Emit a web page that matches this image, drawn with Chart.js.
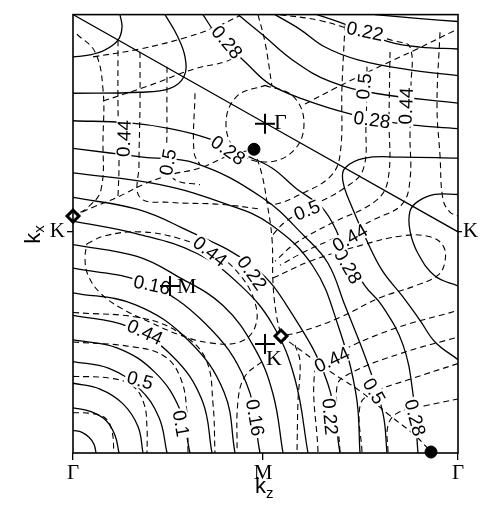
<!DOCTYPE html>
<html>
<head>
<meta charset="utf-8">
<script src="https://cdn.jsdelivr.net/npm/chart.js@4.4.1/dist/chart.umd.min.js"></script>
<style>
  html, body { margin: 0; padding: 0; background: #fff; }
  #wrap { width: 485px; height: 513px; }
</style>
</head>
<body>
<div id="wrap"><canvas id="c" width="485" height="513"></canvas></div>
<script>
// k-plane in arbitrary units, origin at the lower-left Gamma point
const kzTicks = [0, 190, 385];
const kzLabels = ['Γ', 'M', 'Γ'];
const kxTicks = [225];
const kxLabels = ['K'];

// solid contours (first band)
const arcA1 = [[0,23],[9,21],[16,16],[21,9],[23,0]];
const arcA2 = [[0,46],[18,42],[33,33],[42,18],[46,0]];
const arcA3 = [[0,71],[27,65],[50,50],[65,27],[70,0]];
const arcA4 = [[0,93],[36,86],[66,66],[86,36],[94,0]];
const arcA5 = [[0,115],[44,107],[82,82],[107,44],[117,0]];
const arcA6 = [[0,140],[54,129],[99,99],[129,54],[139,0]];
const arcA7 = [[0,163],[62,151],[115,115],[151,62],[162,0]];
const arcA8 = [[0,188],[72,173],[132,132],[173,72],[187,0]];
const arcA9 = [[0,212],[64,200],[104,180],[150,150],[182,106],[200,60],[210,0]];
const arcA10 = [[0,236],[64,223],[124,203],[168,170],[200,130],[222,75],[235,0]];
const arcA11 = [[0,260],[64,248],[107,230],[180,190],[220,140],[255,70],[267,0]];
const arcA12 = [[0,285],[87,273],[154,253],[197,233],[240,190],[265,130],[283,60],[287,0]];
const arcA13 = [[0,310],[70,301],[122,295],[189,260],[232,220],[255,193],[272,150],[295,90],[310,40],[314,0]];
const arcA14 = [[0,338],[54,336],[97,330],[135,320],[172,303],[199,290],[222,270],[252,246],[275,200],[292,170],[309,150],[330,110],[340,60],[345,0]];
const cornerS1 = [[47,446],[49,433],[45,420],[32,410],[17,405],[0,403]];
const cornerS2 = [[92,446],[104,425],[112,403],[111,383],[97,371],[67,367],[0,366]];
const zoneEdge = [[0,446],[385,225]];
const topT1 = [[302,446],[347,442],[385,439]];
const topT2 = [[244,446],[267,438],[287,430],[317,418],[347,413],[385,411]];
const topT3 = [[202,446],[227,431],[252,413],[285,400],[335,390],[385,384]];
const topT4 = [[165,446],[189,426],[222,398],[257,378],[302,366],[385,356]];
const topT5 = [[130,446],[142,428],[174,396],[197,375],[230,360],[277,345],[327,335],[385,330]];
const pocketOuter = [[385,300],[327,301],[292,300],[272,290],[270,276],[279,250],[292,220],[309,186],[329,160],[347,135],[362,113],[385,95]];
const pocketInner = [[385,263],[362,263],[345,256],[337,246],[337,226],[345,203],[362,180],[385,170]];

// dashed contours (second band)
const sqA = [[0,41],[20,40],[33,35],[39,22],[41,0]];
const sqB = [[0,78],[38,76],[60,68],[71,50],[74,25],[74,0]];
const sqC = [[0,113],[60,108],[92,98],[108,75],[114,40],[115,0]];
const sqD = [[0,143],[70,137],[110,120],[133,95],[140,50],[142,0]];
const ellipseM = [[14,213],[32,221],[67,225],[107,218],[142,203],[167,181],[182,153],[182,128],[167,113],[137,112],[107,120],[77,133],[47,148],[27,163],[15,181],[12,198],[14,213]];
const circleG = [[192,374],[220,363],[231,335],[220,307],[192,296],[164,307],[153,335],[164,363],[192,374]];
const rayG = [[185,446],[192,418],[199,373]];
const pathKdot = [[208,119],[227,105],[257,83],[287,63],[317,38],[342,18],[358,1]];
const pathDotK = [[181,309],[189,283],[194,255],[199,218],[200,173],[203,143],[208,119]];
const pathKleft = [[0,241],[20,250],[44,260],[70,273],[97,283],[127,290],[157,303],[181,309]];
const loopE = [[200,178],[237,195],[287,211],[330,221],[357,220],[370,211],[372,195],[365,181],[342,170],[307,158],[267,138],[227,123],[208,119]];
const bandL1 = [[315,1],[315,28],[325,41],[352,48],[385,55]];
const bandL2 = [[289,1],[287,48],[299,61],[337,75],[385,91]];
const bandL3 = [[267,1],[264,68],[277,81],[327,101],[385,118]];
const bandL4 = [[245,1],[242,85],[257,98],[317,125],[385,145]];
const dropB1 = [[189,93],[172,78],[165,53],[164,1]];
const dropB2 = [[222,110],[227,93],[225,53],[224,1]];
const bendV2 = [[272,435],[269,373],[267,303],[257,281],[227,263],[202,253],[194,255]];
const bendV3 = [[294,393],[293,333],[290,288],[272,270],[237,250],[212,235],[199,221]];
const bendV4 = [[317,408],[316,343],[315,278],[302,256],[257,233],[222,213],[202,195]];
const bendV5 = [[207,446],[247,440],[287,428],[322,419],[337,413],[338,373],[337,323],[337,278],[329,253],[302,238],[267,221],[232,205],[207,191]];
const bendV6 = [[367,428],[364,353],[367,303],[370,258],[377,245],[385,241]];
const riseR0 = [[232,355],[262,371],[302,391],[342,410],[382,430]];
const colU1 = [[4,426],[22,408],[30,370],[30,320],[28,268],[15,250],[0,241]];
const colU2 = [[45,420],[45,353],[46,293],[45,261]];
const colU3 = [[67,408],[67,353],[66,293],[67,260],[97,255],[147,253],[189,248]];
const colU4 = [[94,393],[94,333],[95,293],[102,278],[127,273]];
const colU5 = [[122,366],[121,306],[127,293]];
const riseR1 = [[20,403],[67,411],[114,423],[142,433],[167,445]];
const riseR2 = [[30,358],[74,373],[122,391],[152,398],[172,408]];

// special points
const crossX = [192, 97, 192];
const crossY = [335, 170, 111];
const crossNames = ['Γ', 'M', 'K'];
const dotX = [181, 358];
const dotY = [309, 1];
const diamondX = [0, 208];
const diamondY = [241, 119];

// contour values written on the lines
const labelText = ['0.28','0.22','0.5','0.44','0.28','0.44','0.5','0.28','0.5','0.44','0.22',
                   '0.16','0.44','0.5','0.1','0.16','0.22','0.44','0.5','0.28','0.28','0.44'];
const labelX = [154,292,291,333,299,51,95,155,234,137,179,79,72,67,108,182,257,259,301,342,275,277];
const labelY = [418,429,373,353,339,320,296,308,247,205,183,171,123,74,30,36,37,95,63,36,190,219];
const labelAngle = [50,12,-85,-88,8,-88,-80,35,-22,38,55,12,25,15,80,80,85,-25,60,75,60,-30];

const solidCurves = [arcA1, arcA2, arcA3, arcA4, arcA5, arcA6, arcA7, arcA8, arcA9, arcA10, arcA11,
  arcA12, arcA13, arcA14, cornerS1, cornerS2, zoneEdge, topT1, topT2, topT3, topT4, topT5,
  pocketOuter, pocketInner];
const dashedCurves = [sqA, sqB, sqC, sqD, ellipseM, circleG, rayG, pathKdot, pathDotK, pathKleft,
  loopE, bandL1, bandL2, bandL3, bandL4, dropB1, dropB2, bendV2, bendV3, bendV4, bendV5, bendV6,
  riseR0, colU1, colU2, colU3, colU4, colU5, riseR1, riseR2];

const toPts = arr => arr.map(p => ({ x: p[0], y: p[1] }));

const datasets = [];
solidCurves.forEach(c => datasets.push({
  data: toPts(c), showLine: true, pointRadius: 0, borderColor: '#000',
  borderWidth: 1.3, tension: 0.4, fill: false, order: 2
}));
dashedCurves.forEach(c => datasets.push({
  data: toPts(c), showLine: true, pointRadius: 0, borderColor: '#000',
  borderWidth: 1.1, borderDash: [6, 4], tension: 0.4, fill: false, order: 2
}));
datasets.push({
  data: crossX.map((v, i) => ({ x: v, y: crossY[i] })),
  pointStyle: 'cross', pointRadius: 10, borderColor: '#000', borderWidth: 2, showLine: false, order: 0
});
datasets.push({
  data: dotX.map((v, i) => ({ x: v, y: dotY[i] })),
  pointStyle: 'circle', pointRadius: 6, backgroundColor: '#000', borderColor: '#000', showLine: false,
  clip: false, order: 0
});
datasets.push({
  data: diamondX.map((v, i) => ({ x: v, y: diamondY[i] })),
  pointStyle: 'rectRot', pointRadius: 6, backgroundColor: '#fff', borderColor: '#000',
  borderWidth: 3, showLine: false, clip: false, order: 0
});

const serif = '"Liberation Serif", "Times New Roman", serif';
const sans = '"Liberation Sans", Arial, sans-serif';

// contour values go on top of the lines but under the markers
function drawValues(chart) {
  const { ctx, scales: { x, y } } = chart;
  ctx.save();
  ctx.font = '19px ' + sans;
  ctx.textAlign = 'center';
  ctx.textBaseline = 'middle';
  labelText.forEach((t, i) => {
    ctx.save();
    ctx.translate(x.getPixelForValue(labelX[i]), y.getPixelForValue(labelY[i]));
    ctx.rotate(labelAngle[i] * Math.PI / 180);
    const w = ctx.measureText(t).width;
    ctx.fillStyle = '#fff';
    ctx.fillRect(-w / 2 - 2, -8, w + 4, 16);
    ctx.fillStyle = '#000';
    ctx.fillText(t, 0, 1);
    ctx.restore();
  });
  ctx.restore();
}

const decorPlugin = {
  id: 'decor',
  afterDatasetDraw(chart, args) {
    if (args.index === 0) drawValues(chart);
  },
  afterDatasetsDraw(chart) {
    const { ctx, chartArea: a, scales: { x, y } } = chart;
    ctx.save();
    // frame
    ctx.strokeStyle = '#000';
    ctx.lineWidth = 1.6;
    ctx.strokeRect(a.left, a.top, a.right - a.left, a.bottom - a.top);

    // names of the special points
    ctx.font = '22px ' + serif;
    ctx.textAlign = 'left';
    ctx.textBaseline = 'middle';
    ctx.fillStyle = '#000';
    const off = [[9, 0], [7, 1], [1, 15]];
    crossNames.forEach((n, i) => {
      ctx.fillText(n, x.getPixelForValue(crossX[i]) + off[i][0], y.getPixelForValue(crossY[i]) + off[i][1]);
    });

    // axis titles
    ctx.font = '22px ' + sans;
    ctx.save();
    ctx.translate(a.left - 39, y.getPixelForValue(225) + 12);
    ctx.rotate(-Math.PI / 2);
    ctx.textAlign = 'left';
    ctx.fillText('k', 0, 0);
    ctx.font = '15px ' + sans;
    ctx.fillText('x', 11, 6);
    ctx.restore();
    ctx.font = '22px ' + sans;
    const kzx = x.getPixelForValue(190) - 8;
    ctx.fillText('k', kzx, a.bottom + 34);
    ctx.font = '15px ' + sans;
    ctx.fillText('z', kzx + 11, a.bottom + 41);
    ctx.restore();
  }
};

new Chart(document.getElementById('c'), {
  type: 'scatter',
  data: { datasets },
  options: {
    responsive: false,
    animation: false,
    layout: { padding: { top: 7, left: 0, right: 0, bottom: 0 } },
    plugins: { legend: { display: false }, tooltip: { enabled: false } },
    scales: {
      x: {
        type: 'linear', min: 0, max: 385,
        afterBuildTicks: s => { s.ticks = kzTicks.map(v => ({ value: v })); },
        afterFit: s => { s.height = 60; },
        ticks: {
          autoSkip: false, maxRotation: 0, color: '#000', padding: 1,
          font: { family: serif, size: 21 },
          callback: (v) => kzLabels[kzTicks.indexOf(v)]
        },
        grid: { drawOnChartArea: false, tickLength: 7, color: '#000', lineWidth: 1.3 },
        border: { display: false }
      },
      y: {
        type: 'linear', min: 0, max: 446, position: 'left',
        afterBuildTicks: s => { s.ticks = kxTicks.map(v => ({ value: v })); },
        afterFit: s => { s.width = 73; },
        ticks: {
          color: '#000', padding: 2,
          font: { family: serif, size: 21 },
          callback: (v) => kxLabels[kxTicks.indexOf(v)]
        },
        grid: { drawOnChartArea: false, tickLength: 6, color: '#000', lineWidth: 1.3 },
        border: { display: false }
      },
      y2: {
        type: 'linear', min: 0, max: 446, position: 'right',
        afterBuildTicks: s => { s.ticks = kxTicks.map(v => ({ value: v })); },
        afterFit: s => { s.width = 27; },
        ticks: {
          color: '#000', padding: 1,
          font: { family: serif, size: 21 },
          callback: (v) => kxLabels[kxTicks.indexOf(v)]
        },
        grid: { drawOnChartArea: false, tickLength: 4, color: '#000', lineWidth: 1.3 },
        border: { display: false }
      }
    }
  },
  plugins: [decorPlugin]
});
</script>
</body>
</html>
